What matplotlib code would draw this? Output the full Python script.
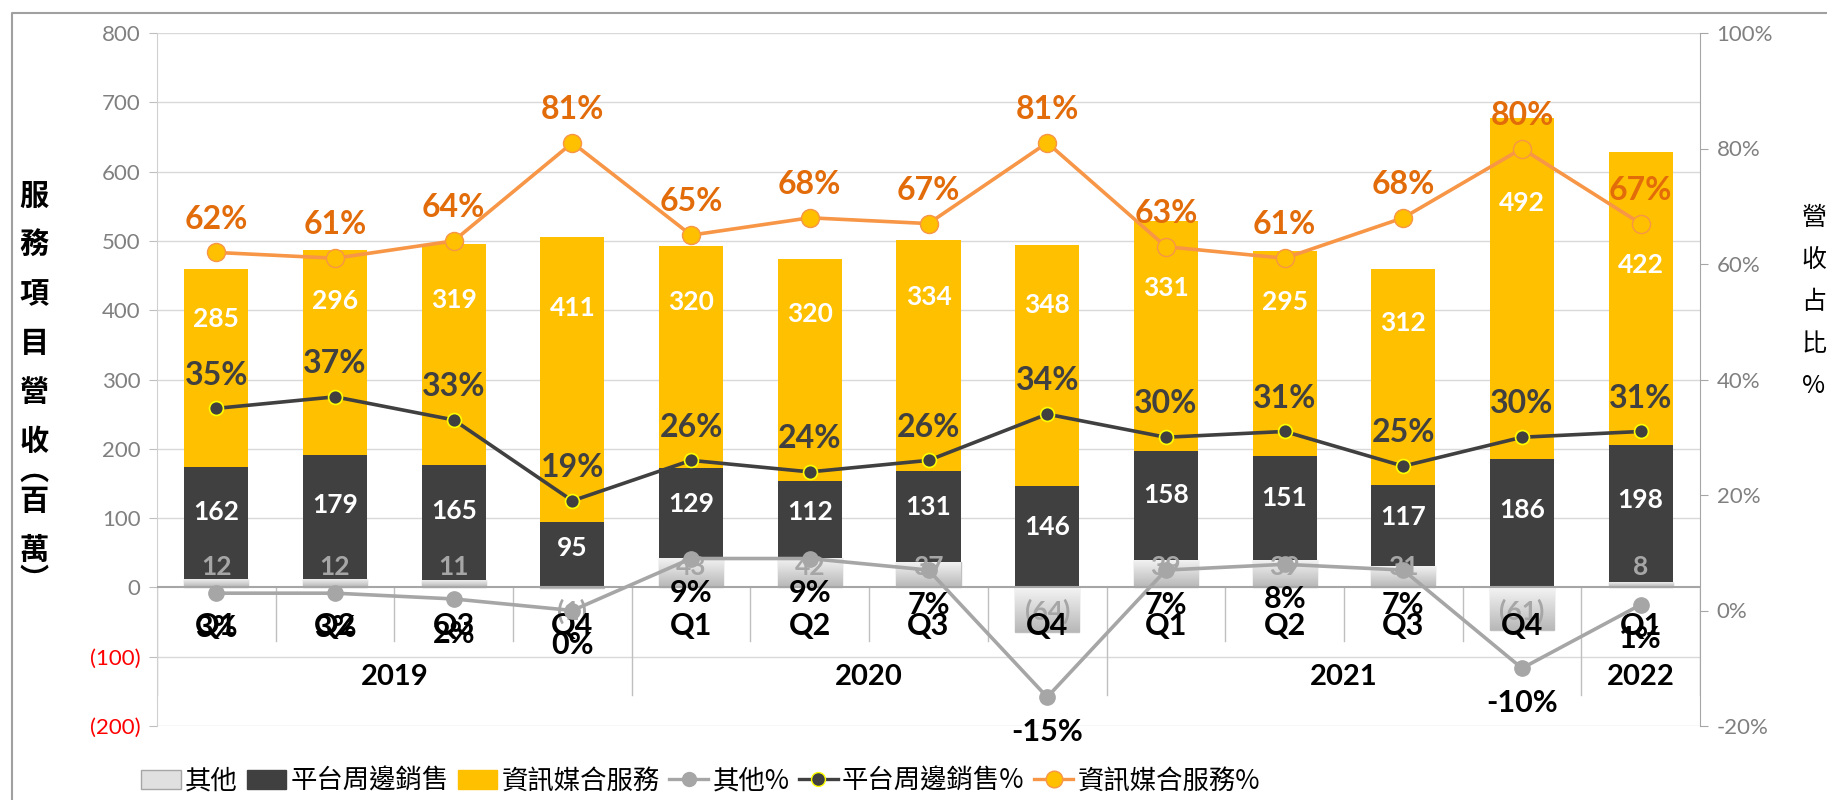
import numpy as np
import matplotlib
matplotlib.use("Agg")
import matplotlib.pyplot as plt
from matplotlib.patches import Patch
from matplotlib.lines import Line2D
from matplotlib.colors import LinearSegmentedColormap

# ---- data (百萬) ----
quarters = ["Q1", "Q2", "Q3", "Q4", "Q1", "Q2", "Q3", "Q4", "Q1", "Q2", "Q3", "Q4", "Q1"]
years = ["2019", "2020", "2021", "2022"]
year_sizes = [4, 4, 4, 1]

other = [12, 12, 11, -1, 43, 42, 37, -64, 39, 39, 31, -61, 8]
platform = [162, 179, 165, 95, 129, 112, 131, 146, 158, 151, 117, 186, 198]
matching = [285, 296, 319, 411, 320, 320, 334, 348, 331, 295, 312, 492, 422]

other_pct = [3, 3, 2, 0, 9, 9, 7, -15, 7, 8, 7, -10, 1]
platform_pct = [35, 37, 33, 19, 26, 24, 26, 34, 30, 31, 25, 30, 31]
matching_pct = [62, 61, 64, 81, 65, 68, 67, 81, 63, 61, 68, 80, 67]

left_ticks = [-200, -100, 0, 100, 200, 300, 400, 500, 600, 700, 800]
right_ticks = [-20, 0, 20, 40, 60, 80, 100]

# ---- style ----
NUM = ["Lato", "Noto Sans CJK TC", "DejaVu Sans"]
CJK = ["Noto Sans CJK TC", "DejaVu Sans"]
YELLOW = "#FFC000"
DARK = "#404040"
GREY = "#A6A6A6"
ORANGE_LINE = "#F79646"
ORANGE_TXT = "#E26B0A"

W, H = 1827, 800
fig = plt.figure(figsize=(W / 100, H / 100), dpi=100)
ax = fig.add_axes([157 / W, 1 - 726 / H, (1700 - 157) / W, (726 - 33) / H])

LEFT_LIM = (-200, 800)
RIGHT_LIM = (-20, 100)

x = np.arange(len(quarters))
other = np.array(other)
platform = np.array(platform)
matching = np.array(matching)
base_dark = np.clip(other, 0, None)
base_yellow = base_dark + platform


def pct_to_left(p):
    return LEFT_LIM[0] + (p - RIGHT_LIM[0]) / (RIGHT_LIM[1] - RIGHT_LIM[0]) * (LEFT_LIM[1] - LEFT_LIM[0])


# grid
for t in left_ticks:
    if t == 0:
        continue
    ax.axhline(t, color="#D9D9D9", lw=1, zorder=0)

bw = 0.54
other_bars = ax.bar(x, other, bw, color="#D9D9D9", edgecolor="#BFBFBF", lw=1, zorder=2)
ax.bar(x, platform, bw, bottom=base_dark, color=DARK, zorder=2)
ax.bar(x, matching, bw, bottom=base_yellow, color=YELLOW, zorder=2)

# gradient fill for 其他
grad = np.linspace(0, 1, 64).reshape(-1, 1)
gcmap = LinearSegmentedColormap.from_list("g", ["#B8B8B8", "#F4F4F4"])
for b in other_bars:
    y0, y1 = sorted([b.get_y(), b.get_y() + b.get_height()])
    im = ax.imshow(grad, extent=[b.get_x(), b.get_x() + b.get_width(), y0, y1],
                   origin="lower", aspect="auto", cmap=gcmap, zorder=2.1)
    im.set_clip_path(b)

ax.axhline(0, color="#A6A6A6", lw=1.5, zorder=3)

# bar value labels
for i in x:
    # keep the yellow value clear of the orange line label
    ylab = min(base_yellow[i] + matching[i] * 0.75, pct_to_left(matching_pct[i]) - 60)
    ax.text(i, ylab, str(matching[i]), ha="center", va="center",
            color="white", fontsize=19, fontweight="bold", family=NUM, zorder=4)
    ax.text(i, base_dark[i] + platform[i] * 0.6, str(platform[i]), ha="center", va="center",
            color="white", fontsize=19, fontweight="bold", family=NUM, zorder=4)
    v = other[i]
    lab = str(v) if v >= 0 else "(%d)" % abs(v)
    ax.annotate(lab, (i, 0), xytext=(0, 15 if v >= 0 else -17), textcoords="offset points",
                ha="center", va="center", color=GREY, fontsize=19, fontweight="bold",
                family=NUM, zorder=4)

# category axis
for i, q in enumerate(quarters):
    ax.text(i, -56, q, ha="center", va="center", fontsize=22, fontweight="bold",
            family=NUM, color="black", zorder=4)
edges = np.cumsum([0] + year_sizes) - 0.5
for i in range(len(quarters) + 1):
    xb = i - 0.5
    depth = -155 if xb in edges else -77
    ax.plot([xb, xb], [0, depth], color="#BFBFBF", lw=1, zorder=1)
for k, yname in enumerate(years):
    ax.text((edges[k] + edges[k + 1]) / 2, -130, yname, ha="center", va="center", fontsize=21,
            fontweight="bold", family=NUM, color="black", zorder=4)

ax.set_xlim(-0.5, len(quarters) - 0.5)
ax.set_ylim(*LEFT_LIM)
ax.set_xticks([])
ax.set_yticks(left_ticks)
ax.set_yticklabels([str(t) if t >= 0 else "(%d)" % abs(t) for t in left_ticks],
                   family=NUM, fontsize=16)
for lbl, t in zip(ax.get_yticklabels(), left_ticks):
    lbl.set_color("#FF0000" if t < 0 else "#808080")
ax.tick_params(axis="y", direction="out", length=6, color="#BFBFBF", pad=6)
for s in ["top", "bottom", "right"]:
    ax.spines[s].set_visible(False)
ax.spines["left"].set_color("#D0D0D0")

# ---- percentage lines ----
ax2 = ax.twinx()
ax2.set_ylim(*RIGHT_LIM)
ax2.plot(x, matching_pct, color=ORANGE_LINE, lw=2.6, marker="o", ms=13,
         mfc=YELLOW, mec=ORANGE_LINE, mew=1, zorder=5)
ax2.plot(x, platform_pct, color=DARK, lw=2.6, marker="o", ms=10,
         mfc=DARK, mec="#FFFF00", mew=1.2, zorder=5)
ax2.plot(x, other_pct, color=GREY, lw=2.6, marker="o", ms=11,
         mfc=GREY, mec=GREY, zorder=5)
for i in x:
    ax2.annotate("%d%%" % matching_pct[i], (i, matching_pct[i]), xytext=(0, 24),
                 textcoords="offset points", ha="center", va="center", fontsize=23,
                 fontweight="bold", color=ORANGE_TXT, family=NUM, zorder=6)
    ax2.annotate("%d%%" % platform_pct[i], (i, platform_pct[i]), xytext=(0, 24),
                 textcoords="offset points", ha="center", va="center", fontsize=23,
                 fontweight="bold", color=DARK, family=NUM, zorder=6)
    ax2.annotate("%d%%" % other_pct[i], (i, other_pct[i]), xytext=(0, -25),
                 textcoords="offset points", ha="center", va="center", fontsize=22,
                 fontweight="bold", color="black", family=NUM, zorder=6)

ax2.set_yticks(right_ticks)
ax2.set_yticklabels(["%d%%" % t for t in right_ticks], family=NUM, fontsize=16, color="#808080")
ax2.tick_params(axis="y", direction="out", length=6, color="#A6A6A6", pad=6)
for s in ["top", "bottom", "left"]:
    ax2.spines[s].set_visible(False)
ax2.spines["right"].set_color("#A6A6A6")


# ---- axis titles ----
def vertical_title(chars, xpix, ypix0, step, small, size, weight):
    ypix = ypix0
    prev = None
    for ch in chars:
        if prev is not None:
            ypix += small if (ch in "︵︶" or prev in "︵︶") else step
        fig.text(xpix / W, 1 - ypix / H, ch, ha="center", va="center", fontsize=size,
                 fontweight=weight, family=CJK, color="black")
        prev = ch


vertical_title("服務項目營收︵百萬︶", 34, 196, 49, 30, 21, "bold")
vertical_title("營收占比%", 1814, 218, 42, 42, 18, "normal")

# ---- legend ----
handles = [
    Patch(facecolor="#E0E0E0", edgecolor="#A6A6A6"),
    Patch(facecolor=DARK, edgecolor=DARK),
    Patch(facecolor=YELLOW, edgecolor=YELLOW),
    Line2D([], [], color=GREY, lw=2.4, marker="o", ms=10, mfc=GREY, mec=GREY),
    Line2D([], [], color=DARK, lw=2.4, marker="o", ms=10, mfc=DARK, mec="#FFFF00"),
    Line2D([], [], color=ORANGE_LINE, lw=2.4, marker="o", ms=12, mfc=YELLOW, mec=ORANGE_LINE),
]
labels = ["其他", "平台周邊銷售", "資訊媒合服務", "其他%", "平台周邊銷售%", "資訊媒合服務%"]
fig.legend(handles, labels, loc="center left", bbox_to_anchor=(128 / W, 1 - 781 / H), ncol=6,
           frameon=False, prop={"family": CJK, "size": 19}, handlelength=1.5,
           handletextpad=0.15, columnspacing=0.35, borderpad=0)

# outer frame (right and bottom fall outside the picture)
fig.add_artist(Line2D([12 / W, 12 / W, 1.0], [0.0, 1 - 13 / H, 1 - 13 / H],
                      transform=fig.transFigure, color="#A0A0A0", lw=1.5))

fig.savefig("out.png", dpi=100)
